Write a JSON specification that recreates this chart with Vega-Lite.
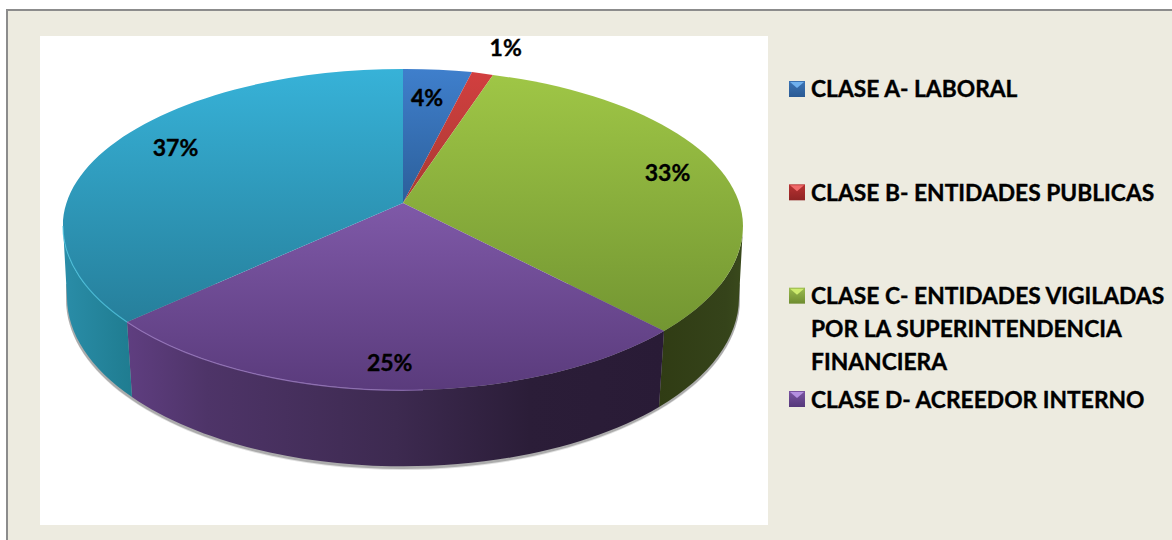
{
"$schema":"https://vega.github.io/schema/vega-lite/v6.json",
"width":1166,"height":531,"autosize":"none","padding":{"left":6,"top":9,"right":0,"bottom":0},
"background":"#ffffff",
"config":{"view":{"fill":"#EDEBE0","stroke":null},"font":"Lato"},
"datasets":{
"clases":[
{"clase":"A","etiqueta":"CLASE A- LABORAL","porcentaje":0.04},
{"clase":"B","etiqueta":"CLASE B- ENTIDADES PUBLICAS","porcentaje":0.01},
{"clase":"C","etiqueta":"CLASE C- ENTIDADES VIGILADAS|POR LA SUPERINTENDENCIA|FINANCIERA","porcentaje":0.33},
{"clase":"D","etiqueta":"CLASE D- ACREEDOR INTERNO","porcentaje":0.25},
{"clase":"E","etiqueta":"CLASE E","porcentaje":0.37}
],
"marco":[{"panel":"fondo"}]
},
"data":{"name":"clases"},
"resolve":{"scale":{"x":"independent","y":"independent","fill":"independent","shape":"independent","stroke":"independent"}},
"layer":[
{"data":{"name":"marco"},"mark":{"type":"rect","fill":"#ffffff"},
 "encoding":{"x":{"datum":40,"type":"quantitative","scale":{"domain":[6,1172]},"axis":null},"x2":{"datum":768},
 "y":{"datum":36,"type":"quantitative","scale":{"domain":[540,9]},"axis":null},"y2":{"datum":525}}},
{"data":{"name":"marco"},"mark":{"type":"rule","stroke":"#8C8C8C","strokeWidth":2},
 "encoding":{"y":{"datum":10,"type":"quantitative","scale":{"domain":[540,9]},"axis":null}}},
{"data":{"name":"marco"},"mark":{"type":"rule","stroke":"#8C8C8C","strokeWidth":2},
 "encoding":{"x":{"datum":7,"type":"quantitative","scale":{"domain":[6,1172]},"axis":null}}},
{"data":{"name":"marco"},"mark":{"type":"point","filled":true,"opacity":0.15,"size":4,"strokeWidth":0,"fill":"#333333","shape":"M-337 95 A337 170.5 0 0 0 337 95 L337 80 L-337 80 Z"},
 "encoding":{"x":{"datum":403,"type":"quantitative","scale":{"domain":[6,1172]},"axis":null},"y":{"datum":204.5,"type":"quantitative","scale":{"domain":[540,9]},"axis":null}}},
{"data":{"name":"marco"},"mark":{"type":"point","filled":true,"opacity":0.3,"size":4,"strokeWidth":0,"fill":"#333333","shape":"M-337 95 A337 170 0 0 0 337 95 L337 80 L-337 80 Z"},
 "encoding":{"x":{"datum":403,"type":"quantitative","scale":{"domain":[6,1172]},"axis":null},"y":{"datum":204,"type":"quantitative","scale":{"domain":[540,9]},"axis":null}}},

{"transform":[{"filter":{"field":"clase","equal":"C"}}],
 "mark":{"type":"point","filled":true,"opacity":1,"size":4,"strokeWidth":0,"shape":"M261 128 A340 164 0 0 0 340 23 L336 95 A336 169 0 0 1 256 204 Z",
 "fill":{"gradient":"linear","x1":0,"y1":0,"x2":1,"y2":0,"stops":[{"offset":0,"color":"#303C14"},{"offset":0.8,"color":"#35431A"},{"offset":1,"color":"#3A4A1C"}]}},
 "encoding":{"x":{"datum":403,"type":"quantitative","scale":{"domain":[6,1172]},"axis":null},"y":{"datum":203,"type":"quantitative","scale":{"domain":[540,9]},"axis":null}}},
{"transform":[{"filter":{"field":"clase","equal":"D"}}],
 "mark":{"type":"point","filled":true,"opacity":1,"size":4,"strokeWidth":0,"shape":"M-276 119 A340 164 0 0 0 261 128 L256 204 A336 169 0 0 1 -271 194 Z",
 "fill":{"gradient":"linear","x1":0,"y1":0,"x2":1,"y2":0,"stops":[{"offset":0,"color":"#5F3E80"},{"offset":0.15,"color":"#4E3468"},{"offset":0.5,"color":"#3D2A50"},{"offset":0.75,"color":"#2B1D38"},{"offset":1,"color":"#291B36"}]}},
 "encoding":{"x":{"datum":403,"type":"quantitative","scale":{"domain":[6,1172]},"axis":null},"y":{"datum":203,"type":"quantitative","scale":{"domain":[540,9]},"axis":null}}},
{"transform":[{"filter":{"field":"clase","equal":"E"}}],
 "mark":{"type":"point","filled":true,"opacity":1,"size":4,"strokeWidth":0,"shape":"M-340 23 A340 164 0 0 0 -276 119 L-271 194 A336 169 0 0 1 -336 95 Z",
 "fill":{"gradient":"linear","x1":0,"y1":0,"x2":1,"y2":0,"stops":[{"offset":0,"color":"#2A8DA8"},{"offset":1,"color":"#1F7C90"}]}},
 "encoding":{"x":{"datum":403,"type":"quantitative","scale":{"domain":[6,1172]},"axis":null},"y":{"datum":203,"type":"quantitative","scale":{"domain":[540,9]},"axis":null}}},

{"transform":[{"filter":{"field":"clase","equal":"A"}}],
 "mark":{"type":"point","filled":true,"opacity":1,"size":4,"strokeWidth":0,"shape":"M0 0 L0 -134 A340 157 0 0 1 69 -131 Z",
 "fill":{"gradient":"linear","x1":0,"y1":0,"x2":0,"y2":1,"stops":[{"offset":0,"color":"#3F7FCC"},{"offset":1,"color":"#2C5F9A"}]}},
 "encoding":{"x":{"datum":403,"type":"quantitative","scale":{"domain":[6,1172]},"axis":null},"y":{"datum":203,"type":"quantitative","scale":{"domain":[540,9]},"axis":null}}},
{"transform":[{"filter":{"field":"clase","equal":"B"}}],
 "mark":{"type":"point","filled":true,"opacity":1,"size":4,"strokeWidth":0,"shape":"M0 0 L69 -131 A340 157 0 0 1 90 -128 Z",
 "fill":{"gradient":"linear","x1":0,"y1":0,"x2":0,"y2":1,"stops":[{"offset":0,"color":"#D23F3F"},{"offset":1,"color":"#A83A33"}]}},
 "encoding":{"x":{"datum":403,"type":"quantitative","scale":{"domain":[6,1172]},"axis":null},"y":{"datum":203,"type":"quantitative","scale":{"domain":[540,9]},"axis":null}}},
{"transform":[{"filter":{"field":"clase","equal":"C"}}],
 "mark":{"type":"point","filled":true,"opacity":1,"size":4,"strokeWidth":0,"shape":"M0 0 L90 -128 A340 157 0 0 1 340 23 A340 164 0 0 1 261 128 Z",
 "fill":{"gradient":"linear","x1":0,"y1":0,"x2":0,"y2":1,"stops":[{"offset":0,"color":"#9FC646"},{"offset":1,"color":"#739632"}]}},
 "encoding":{"x":{"datum":403,"type":"quantitative","scale":{"domain":[6,1172]},"axis":null},"y":{"datum":203,"type":"quantitative","scale":{"domain":[540,9]},"axis":null}}},
{"transform":[{"filter":{"field":"clase","equal":"D"}}],
 "mark":{"type":"point","filled":true,"opacity":1,"size":4,"strokeWidth":0,"shape":"M0 0 L261 128 A340 164 0 0 1 -276 119 Z",
 "fill":{"gradient":"linear","x1":0,"y1":0,"x2":0,"y2":1,"stops":[{"offset":0,"color":"#7F59A8"},{"offset":1,"color":"#5A3B7C"}]}},
 "encoding":{"x":{"datum":403,"type":"quantitative","scale":{"domain":[6,1172]},"axis":null},"y":{"datum":203,"type":"quantitative","scale":{"domain":[540,9]},"axis":null}}},
{"transform":[{"filter":{"field":"clase","equal":"E"}}],
 "mark":{"type":"point","filled":true,"opacity":1,"size":4,"strokeWidth":0,"shape":"M0 0 L-276 119 A340 164 0 0 1 -340 23 A340 157 0 0 1 0 -134 Z",
 "fill":{"gradient":"linear","x1":0,"y1":0,"x2":0,"y2":1,"stops":[{"offset":0,"color":"#37B2D8"},{"offset":1,"color":"#267F9B"}]}},
 "encoding":{"x":{"datum":403,"type":"quantitative","scale":{"domain":[6,1172]},"axis":null},"y":{"datum":203,"type":"quantitative","scale":{"domain":[540,9]},"axis":null}}},

{"transform":[{"filter":{"field":"clase","oneOf":["D","E"]}}],
 "mark":{"type":"point","filled":false,"opacity":0.75,"size":4,"strokeWidth":1.2},
 "encoding":{
 "x":{"datum":403,"type":"quantitative","scale":{"domain":[6,1172]},"axis":null},
 "y":{"datum":203,"type":"quantitative","scale":{"domain":[540,9]},"axis":null},
 "shape":{"field":"clase","type":"nominal","legend":null,"scale":{"domain":["D","E"],"range":[
 "M-276 119 A340 164 0 0 0 20 187","M-340 23 A340 164 0 0 0 -276 119"]}},
 "stroke":{"field":"clase","type":"nominal","legend":null,"scale":{"domain":["D","E"],"range":["#9D7CC4","#4CC4E0"]}}
 }},
{"mark":{"type":"text","font":"Lato","fontWeight":"bold","fontSize":23,"fill":"#000000","stroke":"#000000","strokeWidth":0.35,"align":"center","baseline":"middle","dy":1.5},
 "encoding":{
 "x":{"field":"porcentaje","type":"quantitative","axis":null,"scale":{"domain":[0.01,0.04,0.25,0.33,0.37],"range":[499.7,421,383.7,661.5,169.5],"zero":false,"nice":false}},
 "y":{"field":"porcentaje","type":"quantitative","axis":null,"scale":{"domain":[0.01,0.04,0.25,0.33,0.37],"range":[38,88,353.7,163.7,138],"zero":false,"nice":false}},
 "text":{"field":"porcentaje","type":"quantitative","format":".0%"}
 }},

{"transform":[{"filter":{"field":"clase","equal":"A"}}],
 "mark":{"type":"point","filled":true,"opacity":1,"size":4,"strokeWidth":0,"shape":"M-8 -8 H8 V8 H-8 Z",
 "fill":{"gradient":"linear","x1":0,"y1":0,"x2":0,"y2":1,"stops":[{"offset":0,"color":"#3B73B5"},{"offset":1,"color":"#2A5A94"}]}},
 "encoding":{"x":{"datum":797,"type":"quantitative","scale":{"domain":[6,1172]},"axis":null},
 "y":{"field":"clase","type":"nominal","axis":null,"scale":{"type":"point","domain":["A","B","C","D"],"range":[80,390],"padding":0}}}},
{"transform":[{"filter":{"field":"clase","equal":"B"}}],
 "mark":{"type":"point","filled":true,"opacity":1,"size":4,"strokeWidth":0,"shape":"M-8 -8 H8 V8 H-8 Z",
 "fill":{"gradient":"linear","x1":0,"y1":0,"x2":0,"y2":1,"stops":[{"offset":0,"color":"#B83232"},{"offset":1,"color":"#8F2424"}]}},
 "encoding":{"x":{"datum":797,"type":"quantitative","scale":{"domain":[6,1172]},"axis":null},
 "y":{"field":"clase","type":"nominal","axis":null,"scale":{"type":"point","domain":["A","B","C","D"],"range":[80,390],"padding":0}}}},
{"transform":[{"filter":{"field":"clase","equal":"C"}}],
 "mark":{"type":"point","filled":true,"opacity":1,"size":4,"strokeWidth":0,"shape":"M-8 -8 H8 V8 H-8 Z",
 "fill":{"gradient":"linear","x1":0,"y1":0,"x2":0,"y2":1,"stops":[{"offset":0,"color":"#9BBB4F"},{"offset":1,"color":"#6E8C2F"}]}},
 "encoding":{"x":{"datum":797,"type":"quantitative","scale":{"domain":[6,1172]},"axis":null},
 "y":{"field":"clase","type":"nominal","axis":null,"scale":{"type":"point","domain":["A","B","C","D"],"range":[80,390],"padding":0}}}},
{"transform":[{"filter":{"field":"clase","equal":"D"}}],
 "mark":{"type":"point","filled":true,"opacity":1,"size":4,"strokeWidth":0,"shape":"M-8 -8 H8 V8 H-8 Z",
 "fill":{"gradient":"linear","x1":0,"y1":0,"x2":0,"y2":1,"stops":[{"offset":0,"color":"#7B54A3"},{"offset":1,"color":"#55387A"}]}},
 "encoding":{"x":{"datum":797,"type":"quantitative","scale":{"domain":[6,1172]},"axis":null},
 "y":{"field":"clase","type":"nominal","axis":null,"scale":{"type":"point","domain":["A","B","C","D"],"range":[80,390],"padding":0}}}},
{"transform":[{"filter":{"field":"clase","oneOf":["A","B","C","D"]}}],
 "mark":{"type":"point","filled":true,"opacity":1,"size":4,"strokeWidth":0,"shape":"M-7 -7 H7 L0 -1 Z"},
 "encoding":{
 "x":{"datum":797,"type":"quantitative","scale":{"domain":[6,1172]},"axis":null},
 "y":{"field":"clase","type":"nominal","axis":null,"scale":{"type":"point","domain":["A","B","C","D"],"range":[80,390],"padding":0}},
 "fill":{"field":"clase","type":"nominal","legend":null,"scale":{"domain":["A","B","C","D"],"range":["#6FB0EE","#F06A6A","#CDEB6E","#B48FE0"]}}
 }},
{"transform":[{"filter":{"field":"clase","oneOf":["A","B","C","D"]}}],
 "mark":{"type":"text","font":"Lato","fontWeight":"bold","fontSize":22.8,"fill":"#000000","stroke":"#000000","strokeWidth":0.35,"align":"left","baseline":"top","dy":-8,"lineBreak":"|","lineHeight":33},
 "encoding":{
 "x":{"datum":811,"type":"quantitative","scale":{"domain":[6,1172]},"axis":null},
 "y":{"field":"clase","type":"nominal","axis":null,"scale":{"type":"point","domain":["A","B","C","D"],"range":[78,389],"padding":0}},
 "text":{"field":"etiqueta","type":"nominal"}
 }}
]}
